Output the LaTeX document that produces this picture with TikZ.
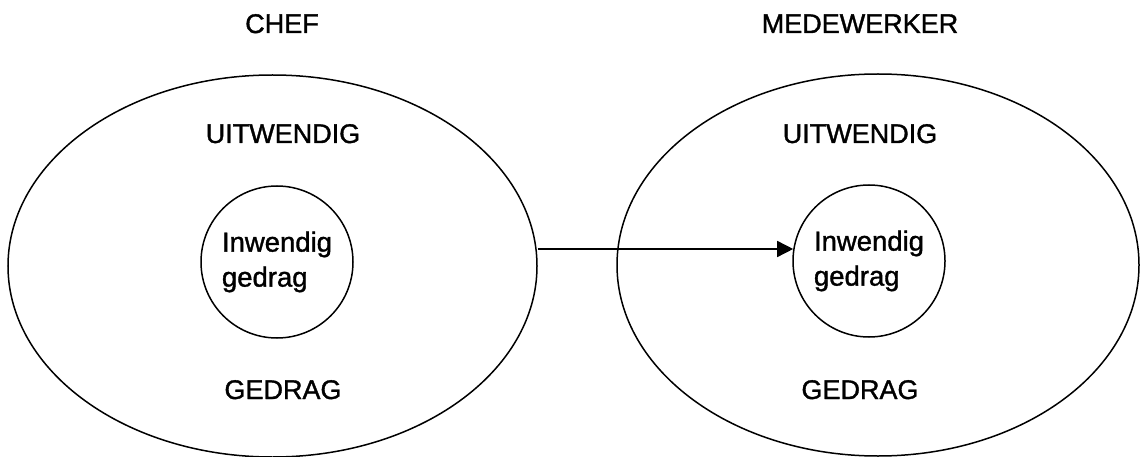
\documentclass[tikz,border=0pt]{standalone}
\usepackage{fontspec}
\setmainfont{Liberation Sans}
\newfontfamily\heavysans[FakeBold=1.3]{Liberation Sans}
\usetikzlibrary{shapes.geometric,arrows.meta}
\begin{document}
\begin{tikzpicture}[x=1pt,y=-1pt,
  lbl/.style={font=\heavysans\fontsize{27}{33}\selectfont, inner sep=0pt, anchor=base},
  outerell/.style={draw, ellipse, line width=1.5pt, inner sep=0pt, minimum height=382pt},
  innercirc/.style={draw, circle, line width=1.5pt, inner sep=0pt, minimum size=152pt,
    align=left, font=\heavysans\fontsize{27.5}{35}\selectfont},
  arr/.style={line width=1.5pt, -{Triangle[length=16pt,width=16pt]}}]
\useasboundingbox (0,0) rectangle (1140,457);
% outer ellipses
\node[outerell, minimum width=529pt] (Lell) at (272.5,266) {};
\node[outerell, minimum width=522pt] (Rell) at (878,265) {};
% inner circles
\node[innercirc] (Lin) at (277,262) {Inwendig\\gedrag};
\node[innercirc] (Rin) at (869,261) {Inwendig\\gedrag};
% labels
\node[lbl] (chef) at (282,33) {CHEF};
\node[lbl] (mede) at (860,33) {MEDEWERKER};
\node[lbl] (Luit) at (283,143) {UITWENDIG};
\node[lbl] (Ruit) at (860,143) {UITWENDIG};
\node[lbl] (Lged) at (283,399) {GEDRAG};
\node[lbl] (Rged) at (860,399) {GEDRAG};
% arrow
\draw[arr] (Lell.east |- Rin.171) -- (Rin.171);
\end{tikzpicture}
\end{document}
